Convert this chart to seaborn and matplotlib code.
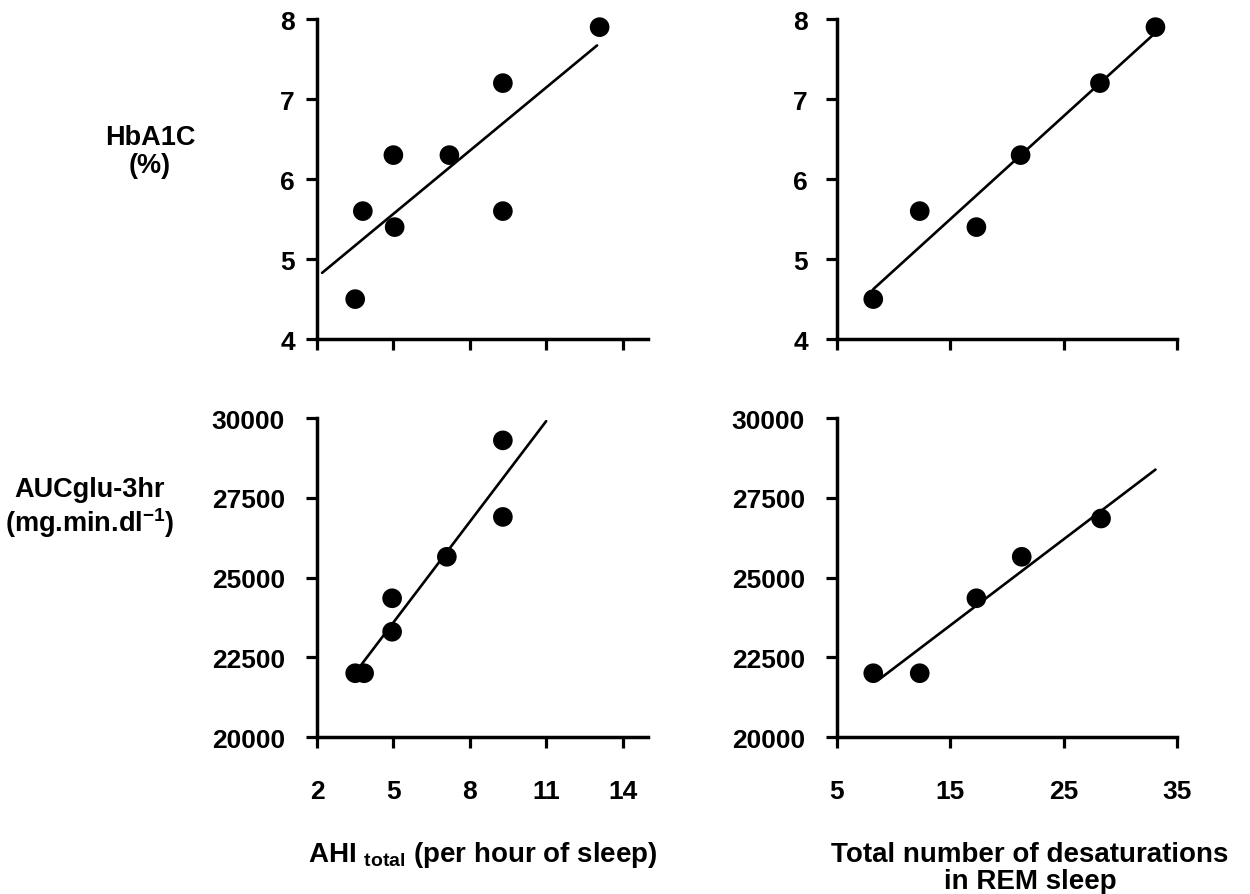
import numpy as np
import pandas as pd
import seaborn as sns
import matplotlib.pyplot as plt

sns.set_style("ticks", {'axes.edgecolor': 'black', 'text.color': 'black',
                        'xtick.color': 'black', 'ytick.color': 'black'})
plt.rcParams['font.family'] = ['Liberation Sans', 'DejaVu Sans']
plt.rcParams['font.weight'] = 'bold'
plt.rcParams['mathtext.fontset'] = 'custom'
plt.rcParams['mathtext.rm'] = 'Liberation Sans:bold'
plt.rcParams['mathtext.default'] = 'rm'

# AHI total vs HbA1C / AUC glucose
ahi_hba = [3.5, 3.8, 5.0, 5.05, 7.2, 9.3, 9.3, 13.1]
hba_ahi = [4.5, 5.6, 6.3, 5.4, 6.3, 7.2, 5.6, 7.9]
ahi_auc = [3.5, 3.85, 4.95, 4.95, 7.1, 9.3, 9.3]
auc_ahi = [22000, 22000, 24350, 23300, 25650, 29300, 26900]

# REM desaturations vs HbA1C / AUC glucose
desat_hba = [8.2, 12.3, 17.3, 21.2, 28.2, 33.1]
hba_desat = [4.5, 5.6, 5.4, 6.3, 7.2, 7.9]
desat_auc = [8.2, 12.3, 17.3, 21.3, 28.3]
auc_desat = [22000, 22000, 24350, 25650, 26850]

# x extent of each drawn regression line
fit_range_tl = [2.2, 13.0]
fit_range_tr = [8.2, 32.9]
fit_range_bl = [3.6, 11.0]
fit_range_br = [8.8, 33.1]

ahi_ticks = [2, 5, 8, 11, 14]
desat_ticks = [5, 15, 25, 35]
hba_ticks = [4, 5, 6, 7, 8]
auc_ticks = [20000, 22500, 25000, 27500, 30000]

fig = plt.figure(figsize=(12.5, 8.95), dpi=100)
ax_tl = fig.add_axes([0.2536, 0.620, 0.2648, 0.3575])
ax_tr = fig.add_axes([0.6696, 0.620, 0.272, 0.3575])
ax_bl = fig.add_axes([0.2536, 0.1754, 0.2648, 0.3564])
ax_br = fig.add_axes([0.6696, 0.1754, 0.272, 0.3564])

panels = [
    (ax_tl, ahi_hba, hba_ahi, fit_range_tl, (2, 15), ahi_ticks, (4, 8), hba_ticks, False, 8),
    (ax_tr, desat_hba, hba_desat, fit_range_tr, (5, 35), desat_ticks, (4, 8), hba_ticks, False, 13),
    (ax_bl, ahi_auc, auc_ahi, fit_range_bl, (2, 15), ahi_ticks, (20000, 30000), auc_ticks, True, 15),
    (ax_br, desat_auc, auc_desat, fit_range_br, (5, 35), desat_ticks, (20000, 30000), auc_ticks, True, 15),
]

for ax, x, y, rng, xlim, xt, ylim, yt, show_x, ypad in panels:
    df = pd.DataFrame({'x': x, 'y': y})
    # least squares fit drawn over the range shown in the figure
    slope, icpt = np.polyfit(df['x'], df['y'], 1)
    line = pd.DataFrame({'x': rng, 'y': [slope * v + icpt for v in rng]})
    sns.lineplot(data=line, x='x', y='y', ax=ax, color='black', linewidth=1.9)
    sns.scatterplot(data=df, x='x', y='y', ax=ax, color='black', s=200,
                    edgecolor='none', clip_on=False, zorder=3)
    ax.set_xlim(*xlim)
    ax.set_ylim(*ylim)
    ax.set_xticks(xt)
    ax.set_yticks(yt)
    ax.set_xlabel('')
    ax.set_ylabel('')
    sns.despine(ax=ax)
    for s in ['left', 'bottom']:
        ax.spines[s].set_linewidth(2.5)
    ax.tick_params(axis='both', width=2.3, length=8, labelsize=19, direction='out')
    ax.tick_params(axis='y', pad=ypad)
    ax.tick_params(axis='x', pad=22)
    if not show_x:
        ax.set_xticklabels([])
    for lab in ax.get_xticklabels() + ax.get_yticklabels():
        lab.set_fontweight('bold')

fig.text(0.12, 0.83, 'HbA1C\n(%)', ha='center', va='center', fontsize=19.5,
         fontweight='bold', linespacing=1.1)
fig.text(0.072, 0.432, 'AUCglu-3hr\n(mg.min.dl$^{-1}$)', ha='center', va='center',
         fontsize=19.5, fontweight='bold', linespacing=1.1)
fig.text(0.386, 0.045, r'AHI $_{\mathrm{total}}$ (per hour of sleep)', ha='center',
         va='center', fontsize=20, fontweight='bold')
fig.text(0.824, 0.030, 'Total number of desaturations\nin REM sleep', ha='center',
         va='center', fontsize=20, fontweight='bold', linespacing=1.05)

plt.savefig('out.png', dpi=100)
